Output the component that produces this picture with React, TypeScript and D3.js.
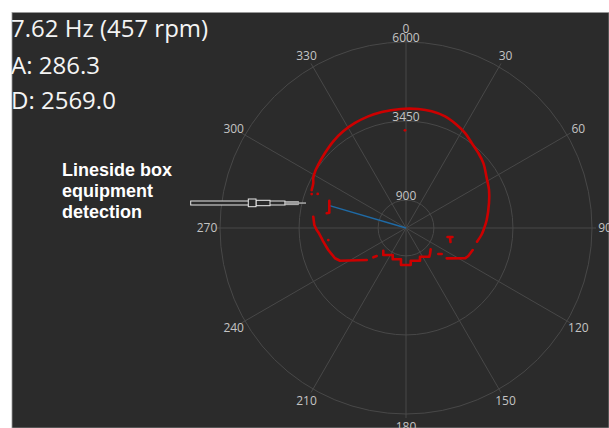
import React from "react";
import * as d3 from "d3";

type P = [number, number]; // [angle deg clockwise from top, distance]

const angleTicks = [0, 30, 60, 90, 120, 150, 180, 210, 240, 270, 300, 330];
const radialTicks = [900, 3450, 6000];
const rMax = 6000;

const titleLines = ["7.62 Hz (457 rpm)", "A: 286.3", "D: 2569.0"];
const annotationLines = ["Lineside box", "equipment", "detection"];

const currentAngle = 286.3;
const currentDistance = 2569.0;

const scanMainArc: P[] = [
  [291.9, 3281], [295.7, 3320], [298.3, 3398], [302.7, 3462], [305.8, 3490],
  [312.8, 3561], [320.0, 3650], [327.0, 3718], [334.1, 3766], [341.3, 3803],
  [348.2, 3824], [354.7, 3833], [359.5, 3849], [5.9, 3859], [12.4, 3855],
  [19.3, 3817], [26.1, 3712], [31.8, 3608], [37.7, 3466], [43.9, 3361],
  [50.0, 3258], [58.2, 3063], [65.4, 2945], [73.2, 2797], [84.3, 2616],
  [91.5, 2501], [94.7, 2453], [100.9, 2333],
];
const scanRightLower: P[] = [[108.3, 2266], [114.2, 2203], [117.2, 2140], [126.7, 1637]];
const scanRightSmall: P[] = [[126.1, 1425], [128.8, 1338]];
const scanSteps: P[] = [
  [130.8, 1052], [137.3, 1141], [140.9, 1192], [154.0, 1030], [156.8, 1147],
  [171.8, 1066], [172.8, 1203], [187.7, 1204], [189.1, 1023], [203.0, 1097],
  [206.2, 971], [220.1, 1138], [225.0, 1036],
];
const scanLeftSmall: P[] = [[226.3, 1308], [228.1, 1416]];
const scanLeftLower: P[] = [
  [230.8, 1635], [243.6, 2376], [246.9, 2490], [254.2, 2605], [260.6, 2704],
  [263.0, 2740], [266.5, 2812], [268.7, 2881], [271.9, 2960], [276.95, 3013],
];
const scanBracket: P[] = [[289.6, 2627], [281.3, 2523], [280.5, 2602]];
const scanTBar: P[] = [[102.2, 1370], [100.95, 1528]];
const scanTStem: P[] = [[101.9, 1451], [107.5, 1505]];
const scanDots: P[] = [[289.8, 3234], [291.1, 3053], [261.2, 2537], [359.4, 3152]];

const W = 609;
const H = 428;
const cx = 406;
const cy = 228;
const R = 186;

export default function App() {
  const r = d3.scaleLinear().domain([0, rMax]).range([0, R]);
  const rad = (a: number) => (a * Math.PI) / 180;

  const lineLin = d3
    .lineRadial<P>()
    .angle((d) => rad(d[0]))
    .radius((d) => r(d[1]))
    .curve(d3.curveLinear);
  const lineSmooth = d3
    .lineRadial<P>()
    .angle((d) => rad(d[0]))
    .radius((d) => r(d[1]))
    .curve(d3.curveCatmullRom);

  const red = "#cc0000";
  const grid = "#484848";
  const labelColor = "#c4c4c4";
  const linSegs = [scanRightLower, scanRightSmall, scanSteps, scanLeftSmall, scanLeftLower, scanBracket, scanTBar, scanTStem];

  const pt = (d: P) => {
    const a = rad(d[0]);
    return [r(d[1]) * Math.sin(a), -r(d[1]) * Math.cos(a)];
  };

  return (
    <div style={{ position: "fixed", left: 0, top: 0, width: W, height: H, background: "#fff" }}>
      <svg width={W} height={H} style={{ display: "block" }}>
        <rect x={12} y={12.5} width={W - 12} height={H - 12.5} fill="#2b2b2b" stroke="#9a9a9a" strokeWidth={0.8} />
        <g transform={`translate(${cx},${cy})`}>
          {radialTicks.map((t) => (
            <circle key={t} r={r(t)} fill="none" stroke={grid} strokeWidth={1} />
          ))}
          {angleTicks.map((a) => {
            const [x, y] = pt([a, rMax * 190 / 186]);
            return <line key={a} x1={0} y1={0} x2={x} y2={y} stroke={grid} strokeWidth={1} />;
          })}
          {angleTicks.map((a) => {
            const [x, y] = pt([a, rMax * 199 / 186]);
            return (
              <text key={a} x={x} y={y} dy="0.35em" textAnchor="middle" fill={labelColor}
                fontFamily="'Open Sans', sans-serif" fontSize={12}>
                {a}
              </text>
            );
          })}
          {radialTicks.map((t) => (
            <text key={t} x={0} y={-r(t) - 0.5} textAnchor="middle" fill={labelColor}
              fontFamily="'Open Sans', sans-serif" fontSize={12}>
              {t}
            </text>
          ))}
          <path d={lineLin([[0, 0], [currentAngle, currentDistance]]) || ""} stroke="#1f6aa5" strokeWidth={1.5} fill="none" />
          <path d={lineSmooth(scanMainArc) || ""} stroke={red} strokeWidth={2.6} fill="none" strokeLinecap="round" strokeLinejoin="round" />
          {linSegs.map((s, i) => (
            <path key={i} d={lineLin(s) || ""} stroke={red} strokeWidth={2.6} fill="none" strokeLinecap="round" strokeLinejoin="round" />
          ))}
          {scanDots.map((d, i) => {
            const [x, y] = pt(d);
            return <circle key={i} cx={x} cy={y} r={1.4} fill={red} />;
          })}
        </g>
        {titleLines.map((t, i) => (
          <text key={t} x={11} y={[37, 74, 109][i]} fill="#f4f4f4" fontFamily="'Open Sans', sans-serif" fontSize={24}>
            {t}
          </text>
        ))}
        {annotationLines.map((t, i) => (
          <text key={t} x={62} y={176 + i * 21} fill="#ffffff" fontFamily="'Liberation Sans', Arial, sans-serif"
            fontWeight="bold" fontSize={18}>
            {t}
          </text>
        ))}
        <g fill="#2b2b2b" stroke="#e8e8e8" strokeWidth={1}>
          <rect x={190.7} y={201} width={94.3} height={4} />
          <rect x={256} y={200.3} width={14} height={5.4} />
          <rect x={248.3} y={199} width={7.7} height={7.7} />
          <rect x={285} y={201.5} width={13.3} height={3.3} fill="#9a9a9a" stroke="#cfcfcf" strokeWidth={0.6} />
          <rect x={298.3} y={202.4} width={7.7} height={1.3} fill="#bbbbbb" stroke="none" />
        </g>
      </svg>
    </div>
  );
}
